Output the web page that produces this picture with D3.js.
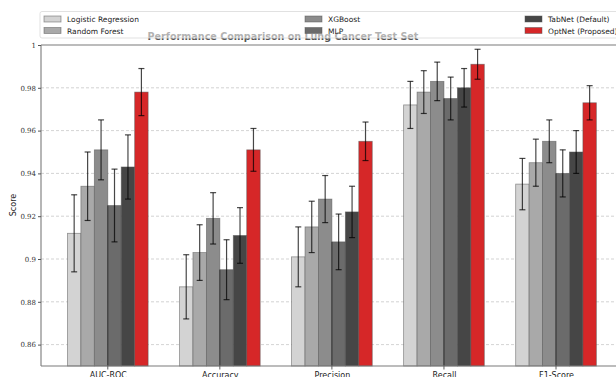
<!DOCTYPE html>
<html>
<head>
<meta charset="utf-8">
<script src="https://cdn.jsdelivr.net/npm/d3@7/dist/d3.min.js"></script>
<style>
  html, body { margin: 0; padding: 0; background: #fff; }
  svg { display: block; }
</style>
</head>
<body>
<svg id="chart" width="616" height="377"></svg>
<script>
// Metrics evaluated on the test set
const categories = ["AUC-ROC", "Accuracy", "Precision", "Recall", "F1-Score"];
const models = ["Logistic Regression", "Random Forest", "XGBoost", "MLP", "TabNet (Default)", "OptNet (Proposed)"];
const modelColors = ["#d3d3d3", "#a9a9a9", "#8c8c8c", "#6b6b6b", "#464646", "#d62728"];

// Mean score per model, in category order
const logisticScores = [0.912, 0.887, 0.901, 0.972, 0.935];
const forestScores   = [0.934, 0.903, 0.915, 0.978, 0.945];
const xgboostScores  = [0.951, 0.919, 0.928, 0.983, 0.955];
const mlpScores      = [0.925, 0.895, 0.908, 0.975, 0.940];
const tabnetScores   = [0.943, 0.911, 0.922, 0.980, 0.950];
const optnetScores   = [0.978, 0.951, 0.955, 0.991, 0.973];

// Standard deviation per model, in category order
const logisticErr = [0.018, 0.015, 0.014, 0.011, 0.012];
const forestErr   = [0.016, 0.013, 0.012, 0.010, 0.011];
const xgboostErr  = [0.014, 0.012, 0.011, 0.009, 0.010];
const mlpErr      = [0.017, 0.014, 0.013, 0.010, 0.011];
const tabnetErr   = [0.015, 0.013, 0.012, 0.009, 0.010];
const optnetErr   = [0.011, 0.010, 0.009, 0.007, 0.008];

const yTicks = [0.86, 0.88, 0.90, 0.92, 0.94, 0.96, 0.98, 1.00];
const yTickLabels = ["0.86", "0.88", "0.9", "0.92", "0.94", "0.96", "0.98", "1"];

const allScores = [logisticScores, forestScores, xgboostScores, mlpScores, tabnetScores, optnetScores];
const allErr = [logisticErr, forestErr, xgboostErr, mlpErr, tabnetErr, optnetErr];

const barWidth = 0.12;
const svg = d3.select("#chart");

const plot = { left: 41, top: 45, bottom: 366 };
const x = d3.scaleLinear().domain([-0.596, 4.596]).range([plot.left, 622.8]);
const y = d3.scaleLinear().domain([0.85, 1.0]).range([plot.bottom, plot.top]);

// each bar is centred on its offset within the category group
const bars = [];
models.forEach((m, mi) => {
  categories.forEach((c, ci) => {
    bars.push({ model: m, mi, ci, value: allScores[mi][ci], err: allErr[mi][ci],
                pos: ci + (mi - 2.5) * barWidth });
  });
});

// horizontal dashed grid
svg.append("g").selectAll("line").data(yTicks.filter(t => t < 1)).join("line")
  .attr("x1", plot.left).attr("x2", 616)
  .attr("y1", d => y(d)).attr("y2", d => y(d))
  .attr("stroke", "#c8c8c8").attr("stroke-width", 0.8).attr("stroke-dasharray", "3,2");

// bars
svg.append("g").selectAll("rect").data(bars).join("rect")
  .attr("x", d => x(d.pos - barWidth / 2))
  .attr("width", x(barWidth) - x(0))
  .attr("y", d => y(d.value))
  .attr("height", d => plot.bottom - y(d.value))
  .attr("fill", d => modelColors[d.mi])
  .attr("stroke", "#555").attr("stroke-opacity", 0.6).attr("stroke-width", 0.8);

// category centre marks
svg.append("g").selectAll("line").data(categories).join("line")
  .attr("x1", (d, i) => x(i)).attr("x2", (d, i) => x(i))
  .attr("y1", (d, i) => y(Math.min(xgboostScores[i], mlpScores[i])))
  .attr("y2", plot.bottom + 3.5)
  .attr("stroke", "#222").attr("stroke-width", 0.9).attr("stroke-opacity", 0.8);

// error bars
const eb = svg.append("g").attr("stroke", "#000").attr("stroke-opacity", 0.72).attr("stroke-width", 1.2);
const cx = d => x(d.pos);
eb.selectAll(".v").data(bars).join("line")
  .attr("x1", cx).attr("x2", cx)
  .attr("y1", d => y(d.value + d.err)).attr("y2", d => y(d.value - d.err));
eb.selectAll(".t").data(bars).join("line")
  .attr("x1", d => cx(d) - 3).attr("x2", d => cx(d) + 3)
  .attr("y1", d => y(d.value + d.err)).attr("y2", d => y(d.value + d.err));
eb.selectAll(".b").data(bars).join("line")
  .attr("x1", d => cx(d) - 3).attr("x2", d => cx(d) + 3)
  .attr("y1", d => y(d.value - d.err)).attr("y2", d => y(d.value - d.err));

// axes frame
const frame = svg.append("g").attr("stroke", "#7a7a7a").attr("stroke-width", 1.1);
frame.append("line").attr("x1", plot.left).attr("x2", plot.left).attr("y1", plot.top).attr("y2", plot.bottom);
frame.append("line").attr("x1", plot.left).attr("x2", 616).attr("y1", plot.top).attr("y2", plot.top);
frame.append("line").attr("x1", plot.left).attr("x2", 616).attr("y1", plot.bottom).attr("y2", plot.bottom);

// y axis ticks and labels
const yAxis = d3.axisLeft(y).tickValues(yTicks).tickSize(3).tickPadding(2)
  .tickFormat((d, i) => yTickLabels[i]);
const yg = svg.append("g").attr("transform", `translate(${plot.left},0)`).call(yAxis);
yg.select(".domain").remove();
yg.selectAll(".tick line").attr("stroke", "#555");
yg.selectAll(".tick text").attr("fill", "#333")
  .style("font-family", "'DejaVu Serif', serif").style("font-size", "7px");

// x axis labels
const xg = svg.append("g").attr("transform", `translate(0,${plot.bottom})`)
  .call(d3.axisBottom(x).tickValues(d3.range(categories.length)).tickSize(0).tickPadding(6)
    .tickFormat(i => categories[i]));
xg.select(".domain").remove();
xg.selectAll(".tick text").attr("fill", "#222")
  .style("font-family", "'DejaVu Sans', sans-serif").style("font-size", "8px");

// y axis title
svg.append("text").attr("transform", "translate(16,205) rotate(-90)")
  .attr("text-anchor", "middle").attr("fill", "#222")
  .style("font-family", "'DejaVu Sans', sans-serif").style("font-size", "8px").text("Score");

// chart title (partly under the legend frame)
svg.append("text").attr("x", 283).attr("y", 40).attr("text-anchor", "middle")
  .attr("fill", "#555").style("font-family", "'DejaVu Sans', sans-serif")
  .style("font-size", "9.6px").style("font-weight", "bold")
  .text("Performance Comparison on Lung Cancer Test Set");

// legend
const legend = svg.append("g");
legend.append("rect").attr("x", 40).attr("y", 11.5).attr("width", 600).attr("height", 26.5)
  .attr("rx", 2).attr("fill", "#fff").attr("fill-opacity", 0.55)
  .attr("stroke", "#d9d9d9").attr("stroke-width", 0.8);
const colX = [44, 305, 525];
const rowY = [19, 30.5];
models.forEach((m, i) => {
  const col = Math.floor(i / 2), row = i % 2;
  const g = legend.append("g").attr("transform", `translate(${colX[col]},${rowY[row]})`);
  g.append("rect").attr("x", 0).attr("y", -3).attr("width", 17).attr("height", 6)
    .attr("fill", modelColors[i]).attr("stroke", "#555").attr("stroke-opacity", 0.6).attr("stroke-width", 0.8);
  g.append("text").attr("x", 23).attr("y", 3).attr("fill", "#222")
    .style("font-family", "'DejaVu Sans', sans-serif").style("font-size", "7.5px").text(m);
});
</script>
</body>
</html>
